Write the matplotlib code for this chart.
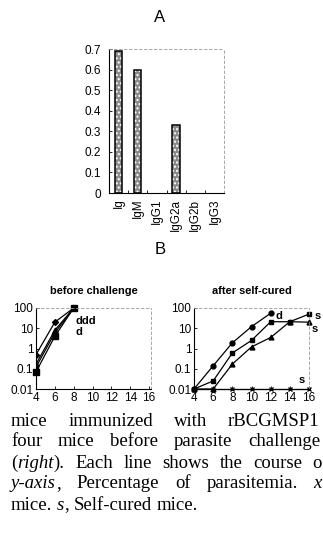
import matplotlib
matplotlib.use("Agg")
import matplotlib.pyplot as plt
import numpy as np

# ---------------- data ----------------
isotypes = ["Ig", "IgM", "IgG1", "IgG2a", "IgG2b", "IgG3"]
isotype_values = [0.69, 0.60, 0.0, 0.33, 0.0, 0.0]
bar_yticks = [0, 0.1, 0.2, 0.3, 0.4, 0.5, 0.6, 0.7]
bar_ylabels = ["0", "0.1", "0.2", "0.3", "0.4", "0.5", "0.6", "0.7"]

before_days = [4, 6, 8]
before_m1 = [0.5, 20, 100]
before_m2 = [0.17, 8, 100]
before_m3 = [0.12, 6, 100]
before_m4 = [0.07, 4, 100]

after_days = [4, 6, 8, 10, 12, 14, 16]
after_c_days = [4, 6, 8, 10, 12]
after_c = [0.01, 0.14, 1.9, 12, 55]
after_sq = [0.01, 0.025, 0.6, 2.5, 21, 21, 50]
after_tri = [0.01, 0.01, 0.17, 1.2, 3.5, 21, 20]
after_x = [0.01, 0.01, 0.01, 0.01, 0.01, 0.01, 0.01]

day_ticks = [4, 6, 8, 10, 12, 14, 16]
log_ticks = [0.01, 0.1, 1, 10, 100]
log_labels = ["0.01", "0.1", "1", "10", "100"]

W, H = 323, 546
fig = plt.figure(figsize=(W / 100, H / 100), dpi=100)
plt.rcParams['font.family'] = ['Liberation Sans', 'DejaVu Sans']

TICK_FS = 8.5

def ax_at(x0, y0, x1, y1):
    return fig.add_axes([x0 / W, 1 - y1 / H, (x1 - x0) / W, (y1 - y0) / H])

def style(ax):
    for s in ("top", "right"):
        ax.spines[s].set_linestyle((0, (3, 3)))
        ax.spines[s].set_color("#999999")
        ax.spines[s].set_linewidth(0.6)
    for s in ("left", "bottom"):
        ax.spines[s].set_linewidth(0.8)
    ax.tick_params(direction="in", length=2.5, width=0.6, labelsize=TICK_FS, pad=2)

# ---------------- A: bar chart ----------------
fig.text(160 / W, 1 - 18 / H, "A", ha="center", va="center", fontsize=12)
axA = ax_at(109, 49, 224, 193)
style(axA)
x = np.arange(len(isotypes))
edge_w = [1.1 if v > 0 else 0 for v in isotype_values]
axA.bar(x, isotype_values, width=0.38, color="#8a8a8a", edgecolor="white",
        hatch="....", linewidth=0)
axA.bar(x, isotype_values, width=0.38, fill=False, edgecolor="black", linewidth=edge_w)
axA.set_xlim(-0.5, len(isotypes) - 0.5)
axA.set_ylim(0, 0.7)
axA.set_yticks(bar_yticks)
axA.set_yticklabels(bar_ylabels)
axA.tick_params(axis="y", pad=5.5)
axA.set_xticks(x)
axA.set_xticklabels(isotypes, rotation=90)
axA.tick_params(axis="x", length=0, pad=4)
axA.set_xticks(np.arange(0.5, len(isotypes) - 1, 1), minor=True)
axA.tick_params(axis="x", which="minor", direction="in", length=2.5, width=0.6)

fig.text(160 / W, 1 - 250 / H, "B", ha="center", va="center", fontsize=12)

# ---------------- B left ----------------
axL = ax_at(36, 308, 151, 389)
style(axL)
kw = dict(color="black", linewidth=0.9, markersize=3.5)
axL.plot(before_days, before_m1, marker="D", markersize=3, color="black", linewidth=0.9)
axL.plot(before_days, before_m2, marker="^", **kw)
axL.plot(before_days, before_m3, marker="s", **kw)
axL.plot(before_days, before_m4, marker="s", color="black", linewidth=0.9, markersize=4, clip_on=False)
axL.set_yscale("log")
axL.set_ylim(0.01, 100)
axL.set_xlim(4, 16.2)
axL.set_yticks(log_ticks)
axL.set_yticklabels(log_labels)
axL.minorticks_off()
axL.set_xticks(day_ticks)
axL.text(8.2, 23, "ddd", fontsize=8, fontweight="bold", va="center")
axL.text(8.2, 6.7, "d", fontsize=8, fontweight="bold", va="center")
axL.set_title("before challenge", fontsize=7.9, fontweight="bold", pad=10)

# ---------------- B right ----------------
axR = ax_at(194, 308, 309, 389)
style(axR)
axR.plot(after_c_days, after_c, marker="o", clip_on=False, **kw)
axR.plot(after_days, after_sq, marker="s", clip_on=False, **kw)
axR.plot(after_days, after_tri, marker="^", clip_on=False, **kw)
axR.plot(after_days, after_x, marker="x", color="black", linewidth=0.9,
         markersize=3, clip_on=False)
axR.set_yscale("log")
axR.set_ylim(0.01, 100)
axR.set_xlim(4, 16)
axR.set_yticks(log_ticks)
axR.set_yticklabels(log_labels)
axR.minorticks_off()
axR.set_xticks(day_ticks)
axR.text(12.5, 40, "d", fontsize=8, fontweight="bold", va="center")
axR.text(16.6, 40, "s", fontsize=8, fontweight="bold", va="center")
axR.text(16.3, 9, "s", fontsize=8, fontweight="bold", va="center")
axR.text(14.9, 0.028, "s", fontsize=8, fontweight="bold", va="center")
axR.set_title("after self-cured", fontsize=7.9, fontweight="bold", pad=10)

# ---------------- caption (justified lines, cut at right edge) ----------------
cap_lines = [
    [("mice", "normal"), ("immunized", "normal"), ("with", "normal"), ("rBCGMSP1", "normal")],
    [("four", "normal"), ("mice", "normal"), ("before", "normal"), ("parasite", "normal"), ("challenge", "normal")],
    [("(", "normal", True), ("right", "italic", True), (").", "normal"), ("Each", "normal"), ("line", "normal"),
     ("shows", "normal"), ("the", "normal"), ("course", "normal"), ("o", "normal")],
    [("y-axis", "italic", True), (",", "normal"), ("Percentage", "normal"), ("of", "normal"),
     ("parasitemia.", "normal"), ("x", "italic")],
    [("mice.", "normal"), ("s", "italic", True), (",", "normal"), ("Self-cured", "normal"), ("mice.", "normal")],
]
cap_y = [421, 442, 463, 484, 505]
cap_right = [319, 320, 322, 322, None]
CAP_FS = 13.5
X0 = 11
fig.canvas.draw()
renderer = fig.canvas.get_renderer()

def measure(txt, st):
    t = fig.text(0, 0, txt, fontsize=CAP_FS, family="Liberation Serif", style=st)
    w = t.get_window_extent(renderer).width
    t.remove()
    return w

space_w = measure("a b", "normal") - measure("ab", "normal")
for parts, yy, right in zip(cap_lines, cap_y, cap_right):
    widths = [measure(p[0], p[1]) for p in parts]
    n_gaps = sum(1 for p in parts[:-1] if not (len(p) > 2 and p[2]))
    natural = sum(widths) + n_gaps * space_w
    gap = space_w if right is None else space_w + (right - X0 - natural) / max(n_gaps, 1)
    xx = X0
    for p, w in zip(parts, widths):
        fig.text(xx / W, 1 - yy / H, p[0], fontsize=CAP_FS, family="Liberation Serif",
                 style=p[1], va="center", ha="left")
        xx += w
        if not (len(p) > 2 and p[2]):
            xx += gap

fig.savefig("out.png", dpi=100)
